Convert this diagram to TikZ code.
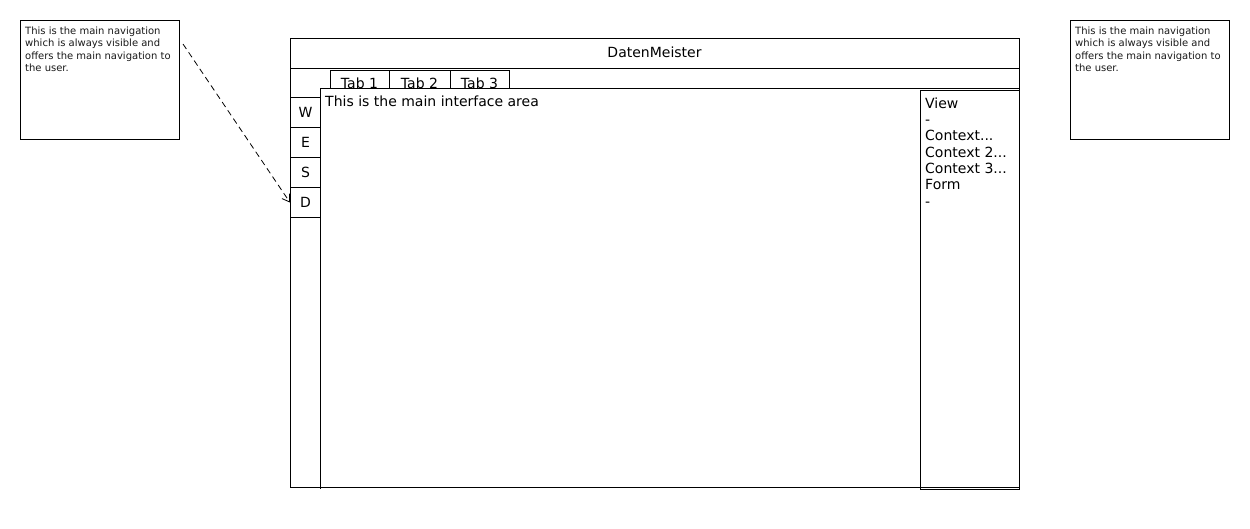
\documentclass[tikz,border=0pt]{standalone}
\usepackage{fontspec}
\setmainfont{DejaVu Sans}
\usetikzlibrary{arrows.meta}
\begin{document}
\begin{tikzpicture}[x=1pt,y=-1pt,
  box/.style={draw=black,line width=0.9pt},
  big/.style={font=\fontsize{14}{16.3}\selectfont,inner sep=0pt},
  small/.style={font=\fontsize{10}{12.5}\selectfont,inner sep=0pt,text=black!90},
  btn/.style={draw=black,line width=1pt,minimum width=30pt,minimum height=30pt,inner sep=0pt,font=\fontsize{14}{16}\selectfont,anchor=north west},
  tabbox/.style={draw=black,line width=0.9pt,inner sep=0pt,anchor=north west},
  conn/.style={dashed,dash pattern=on 6pt off 4pt,line width=0.8pt}
]
\useasboundingbox (0,0) rectangle (1250,528);
% left note
\node[box,minimum width=159pt,minimum height=119pt,anchor=north west,inner sep=0pt] (noteL) at (20,20) {};
\node[small,anchor=north west,align=left] (noteLt) at (25,26.5) {This is the main navigation\\which is always visible and\\offers the main navigation to\\the user.};
% right note
\node[box,minimum width=159pt,minimum height=119pt,anchor=north west,inner sep=0pt] (noteR) at (1070,20) {};
\node[small,anchor=north west,align=left] (noteRt) at (1075,26.5) {This is the main navigation\\which is always visible and\\offers the main navigation to\\the user.};
% outer frame
\node[box,minimum width=729pt,minimum height=449pt,anchor=north west,inner sep=0pt] (frame) at (290,38) {};
\draw[line width=0.9pt] (290,68) -- (1019,68);
\node[big,anchor=base] (title) at (654.5,57.5) {DatenMeister};
% tabs
\node[tabbox,minimum width=59pt,minimum height=18pt] (tab1) at (330,70) {};
\node[tabbox,minimum width=61pt,minimum height=18pt] (tab2) at (389,70) {};
\node[tabbox,minimum width=59pt,minimum height=18pt] (tab3) at (450,70) {};
\node[big,anchor=base] (t1) at (359.5,88.5) {Tab 1};
\node[big,anchor=base] (t2) at (419.5,88.5) {Tab 2};
\node[big,anchor=base] (t3) at (479.5,88.5) {Tab 3};
% main area
\fill[white] (320,88) rectangle (1019,487);
\node[box,minimum width=699pt,minimum height=399pt,anchor=north west,inner sep=0pt] (main) at (320,88) {};
\draw[line width=0.9pt] (320,487) -- (320,489);
\node[big,anchor=base west] (maintext) at (325,106) {This is the main interface area};
% left buttons
\node[btn] (bW) at (290,97) {W};
\node[btn] (bE) at (290,127) {E};
\node[btn] (bS) at (290,157) {S};
\node[btn] (bD) at (290,187) {D};
% right panel
\node[box,minimum width=99pt,minimum height=399pt,anchor=north west,inner sep=0pt] (panel) at (920,90) {};
\node[big,anchor=north west,align=left] (paneltext) at (925,97.5) {View\\-\\Context...\\Context 2...\\Context 3...\\Form\\-};
% connector
\coordinate (cstart) at (183,44);
\draw[conn,-{Straight Barb[length=7pt,width=9pt,line width=0.8pt]}] (cstart) -- (bD.west);
\end{tikzpicture}
\end{document}
